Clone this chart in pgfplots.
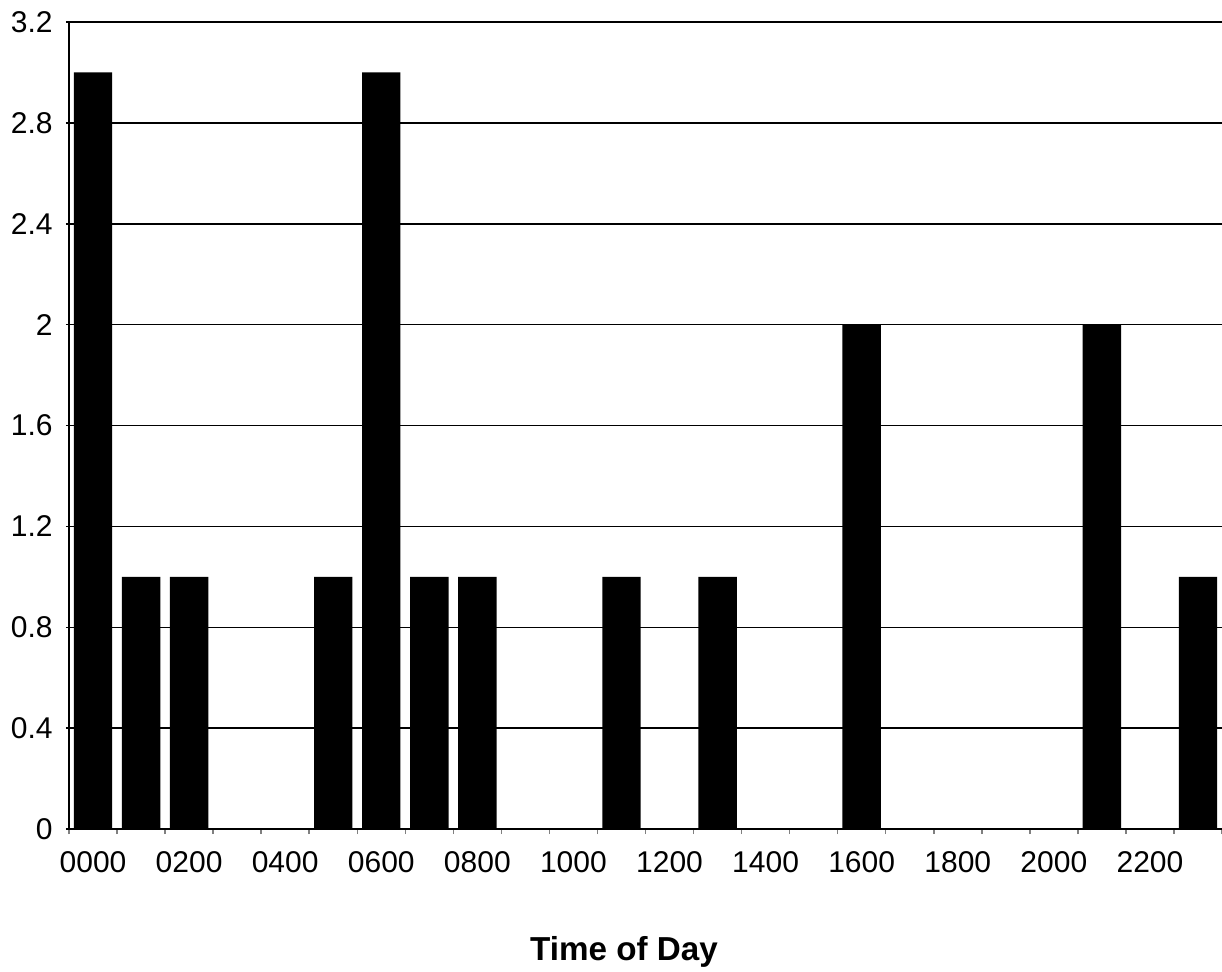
\documentclass[border=0pt]{standalone}
\usepackage{pgfplots}
\pgfplotsset{compat=1.18}
\usepackage{fontspec}
\setmainfont{Liberation Sans}

\begin{document}
\begin{tikzpicture}
    % fixed page frame, 1px = 0.5pt
    \useasboundingbox (-34.5pt,-71pt) rectangle (576.5pt,414.5pt);
    \begin{axis}[
        at={(0,0)}, anchor=south west,
        scale only axis,
        width=576.5pt, % plot area
        height=403.5pt,
        xmin=-0.5, xmax=23.5,
        ymin=0, ymax=3.2,
        axis x line=bottom,
        axis y line=left,
        axis line style={-, line width=1pt},
        xtick={0,2,...,22},
        xticklabels={0000,0200,0400,0600,0800,1000,1200,1400,1600,1800,2000,2200},
        minor xtick={-0.5,0.5,...,23.5},
        major x tick style={draw=none},
        minor x tick style={line width=0.75pt},
        xtick align=inside,
        ytick={0,0.4,...,3.2},
        ytick align=outside,
        major tick length=1.5pt,
        minor tick length=2.5pt,
        ymajorgrids,
        major grid style={line width=0.75pt, draw=black},
        y tick style={line width=0.75pt, black},
        /pgf/number format/assume math mode=true,
        /pgf/number format/fixed,
        tick label style={font=\fontsize{15}{18}\selectfont, inner sep=0pt},
        xticklabel shift=9.5pt,
        yticklabel shift=6.5pt,
        ybar, bar width=0.8, bar shift=0pt,
    ]
        \addplot[fill=black, draw=none] coordinates {
            (0,3) (1,1) (2,1) (3,0) (4,0) (5,1)
            (6,3) (7,1) (8,1) (9,0) (10,0) (11,1)
            (12,0) (13,1) (14,0) (15,0) (16,2) (17,0)
            (18,0) (19,0) (20,0) (21,2) (22,0) (23,1)
        };
    \end{axis}
    \node[anchor=base, inner sep=0pt, font=\bfseries\fontsize{16.6}{20}\selectfont]
        at (277.5pt,-65.5pt) {Time of Day};
\end{tikzpicture}
\end{document}
